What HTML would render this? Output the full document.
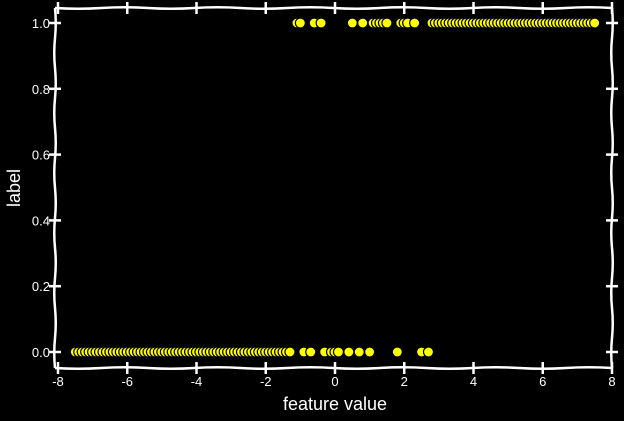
<!DOCTYPE html>
<html><head><meta charset="utf-8"><style>
html,body{margin:0;padding:0;background:#000;}
svg{display:block;font-family:"Liberation Sans",sans-serif;}
</style></head><body>
<svg id="chart" width="624" height="421">
<rect width="624" height="421" fill="#000"/>
<g id="axes"></g>
<g id="points"></g>
<text x="335" y="410" fill="#fff" font-size="18" text-anchor="middle">feature value</text>
<text x="20" y="188" fill="#fff" font-size="18" text-anchor="middle" transform="rotate(-90 20 188)">label</text>
</svg>
<script>
const zeroXs = [];
for (let i = -75; i <= -13; i++) zeroXs.push(i / 10);
zeroXs.push(-0.9,-0.7,-0.3,-0.1,0,0.1,0.4,0.7,1.0,1.8,2.5,2.7);
const oneXs = [-1.1,-1.0,-0.6,-0.4,0.5,0.8,1.1,1.2,1.3,1.4,1.5,1.9,2.0,2.1,2.3];
for (let i = 28; i <= 75; i++) oneXs.push(i / 10);
const xTicks = [-8,-6,-4,-2,0,2,4,6,8];
const yTicks = [0,0.2,0.4,0.6,0.8,1.0];

const NS = "http://www.w3.org/2000/svg";
const L = 55, R = 612, T = 8, B = 368;
const sx = v => 58 + (v + 8) * 34.625;
const sy = v => 352 - v * 329;
const axes = document.getElementById('axes');
const pts = document.getElementById('points');

function wavy(x1,y1,x2,y2){
  let d = `M${x1},${y1}`;
  const n = 12;
  for (let i = 1; i <= n; i++) {
    const t = i / n, amp = (i % 2 ? 1.5 : -1.5);
    const mx = x1 + (x2 - x1) * (t - 0.5 / n), my = y1 + (y2 - y1) * (t - 0.5 / n);
    const ox = (y2 - y1) ? amp : 0, oy = (x2 - x1) ? amp : 0;
    d += ` Q${mx + ox},${my + oy} ${x1 + (x2 - x1) * t},${y1 + (y2 - y1) * t}`;
  }
  return d;
}
[[L,T,R,T,'top-spine'],[L,B,R,B,'bottom-spine'],[L,T,L,B,'left-spine'],[R,T,R,B,'right-spine']].forEach(s=>{
  const p = document.createElementNS(NS,'path');
  p.setAttribute('d', wavy(s[0],s[1],s[2],s[3]));
  p.setAttribute('stroke','#fff'); p.setAttribute('stroke-width','2.5'); p.setAttribute('fill','none');
  
  
  axes.appendChild(p);
});
xTicks.forEach(v=>{
  const x = sx(v);
  [[B-6,B+6],[T-6,T+6]].forEach(yy=>{
    const l = document.createElementNS(NS,'line');
    l.setAttribute('x1',x); l.setAttribute('x2',x); l.setAttribute('y1',yy[0]); l.setAttribute('y2',yy[1]);
    l.setAttribute('stroke','#fff'); l.setAttribute('stroke-width','2.5');
    
    
    axes.appendChild(l);
  });
  const t = document.createElementNS(NS,'text');
  t.setAttribute('x',x); t.setAttribute('y',386); t.setAttribute('fill','#fff');
  t.setAttribute('font-size','13'); t.setAttribute('text-anchor','middle');
  t.textContent = v;
  
  
  axes.appendChild(t);
});
yTicks.forEach(v=>{
  const y = sy(v);
  [[L-6,L+6],[R-6,R+6]].forEach(xx=>{
    const l = document.createElementNS(NS,'line');
    l.setAttribute('y1',y); l.setAttribute('y2',y); l.setAttribute('x1',xx[0]); l.setAttribute('x2',xx[1]);
    l.setAttribute('stroke','#fff'); l.setAttribute('stroke-width','2.5');
    
    
    axes.appendChild(l);
  });
  const t = document.createElementNS(NS,'text');
  t.setAttribute('x',50); t.setAttribute('y',y+5); t.setAttribute('fill','#fff');
  t.setAttribute('font-size','13'); t.setAttribute('text-anchor','end');
  t.textContent = v.toFixed(1);
  
  
  axes.appendChild(t);
});
function dot(x, label){
  const c = document.createElementNS(NS,'circle');
  c.setAttribute('cx', sx(x)); c.setAttribute('cy', sy(label)); c.setAttribute('r', 5);
  c.setAttribute('fill','#ffff00'); c.setAttribute('stroke','#000'); c.setAttribute('stroke-width','1.2');
  
  
  pts.appendChild(c);
}
zeroXs.forEach(x=>dot(x,0));
oneXs.forEach(x=>dot(x,1));
</script>
</body></html>
